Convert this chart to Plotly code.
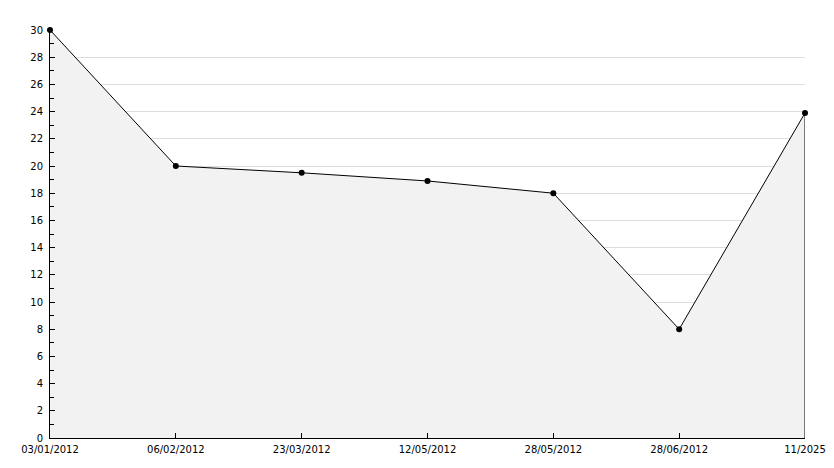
import plotly.graph_objects as go

dates = ["03/01/2012", "06/02/2012", "23/03/2012", "12/05/2012", "28/05/2012", "28/06/2012", "11/2025"]
values = [30, 20, 19.5, 18.9, 18, 8, 23.9]
y_ticks = list(range(0, 31, 2))

fig = go.Figure()
fig.add_trace(go.Scatter(
    x=dates, y=values, mode="lines+markers",
    fill="tozeroy", fillcolor="#f2f2f2",
    line=dict(color="black", width=1),
    marker=dict(color="black", size=6, symbol="circle"),
    cliponaxis=False,
    hoverinfo="x+y", showlegend=False,
))
# right edge of the filled area
fig.add_trace(go.Scatter(
    x=[dates[-1], dates[-1]], y=[0, values[-1]], mode="lines",
    line=dict(color="black", width=1), cliponaxis=False,
    hoverinfo="skip", showlegend=False,
))

font = dict(family="DejaVu Sans, Verdana, sans-serif", size=10, color="black")
fig.update_layout(
    width=834, height=468,
    margin=dict(l=50, r=29, t=30, b=30),
    plot_bgcolor="white", paper_bgcolor="white",
    font=font,
    xaxis=dict(
        type="category", range=[0, 6], showgrid=False,
        showline=True, linecolor="black", linewidth=1,
        ticks="inside", ticklen=5, tickcolor="black",
        tickfont=font, zeroline=False, automargin=False, ticklabelstandoff=2,
    ),
    yaxis=dict(
        range=[0, 30], tickvals=y_ticks, ticktext=[str(v) for v in y_ticks],
        showgrid=True, gridcolor="#dddddd", gridwidth=1,
        showline=True, linecolor="black", linewidth=1,
        ticks="inside", ticklen=5, tickcolor="black",
        minor=dict(dtick=1, tick0=0, ticks="inside", ticklen=4, tickcolor="black", showgrid=False),
        tickfont=font, zeroline=False, ticklabelstandoff=4, automargin=False,
    ),
)
fig.write_html("out.html", config={"displayModeBar": False},
               post_script="document.body.style.margin='0';")
